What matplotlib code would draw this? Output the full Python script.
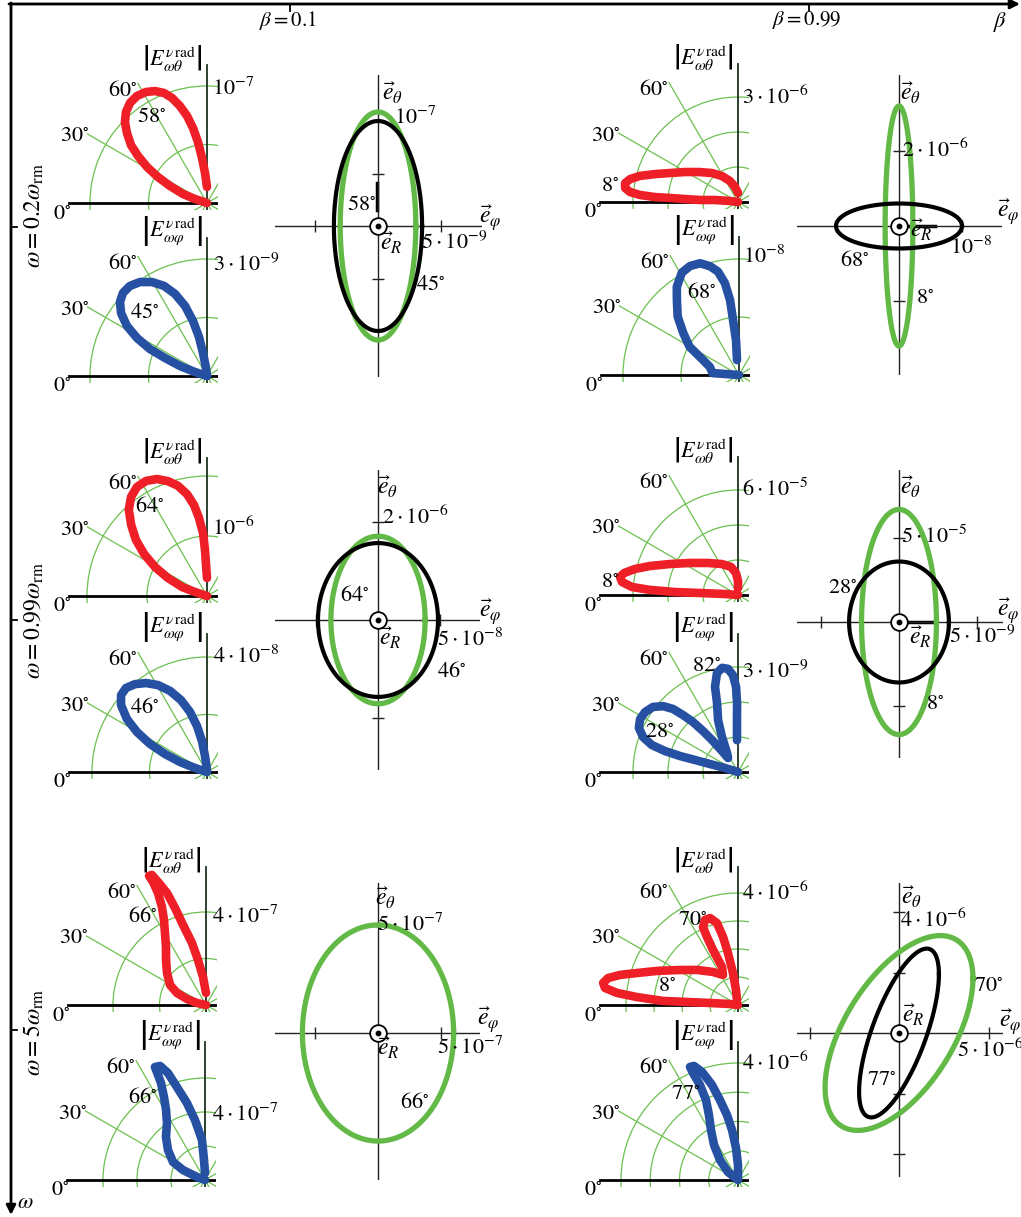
import numpy as np
import matplotlib
matplotlib.use('Agg')
import matplotlib.pyplot as plt
from matplotlib.patches import Circle

plt.rcParams['font.family'] = ['Liberation Serif', 'DejaVu Serif']
plt.rcParams['mathtext.fontset'] = 'stix'

W, H, DPI = 1021, 1217, 100
fig = plt.figure(figsize=(W / DPI, H / DPI), dpi=DPI)

RED, BLUE = '#ee1f26', '#2650a2'
GRID = '#6cc04f'
EGREEN = '#62b946'

# ------------------------------------------------------------------ data
beta_labels = ['0.1', '0.99']
omega_labels = ['0.2', '0.99', '5']

# polar lobes: angle in degrees (0 = left horizontal, 90 = up), magnitude in units of the panel unit
r1c1_theta_ang = [0, 18.4, 20.6, 24.7, 27.9, 31.0, 34.3, 37.3, 41.2, 44.6, 48.3, 52.4, 56.8, 61.2, 65.1,
                  68.7, 71.6, 74.4, 77.1, 79.4, 81.6, 83.7, 86.2, 90]
r1c1_theta_r = [0, 0.108, 0.219, 0.348, 0.474, 0.598, 0.714, 0.817, 0.909, 0.985, 1.041, 1.079, 1.093,
                1.083, 1.055, 1.009, 0.946, 0.861, 0.763, 0.652, 0.527, 0.387, 0.257, 0.137]
r1c1_phi_ang = [0, 18.4, 20.3, 23.2, 25.3, 28.5, 32.0, 36.2, 40.4, 44.7, 49.4, 54.5, 59.7, 64.5, 68.7,
                72.6, 75.7, 78.4, 80.1, 82.9, 90]
r1c1_phi_r = [0, 0.32, 0.74, 1.17, 1.62, 2.04, 2.42, 2.73, 2.93, 3.03, 3.04, 2.96, 2.79, 2.56, 2.26,
              1.88, 1.46, 1.02, 0.60, 0.21, 0]

r1c2_theta_ang = [0, 7.1, 5.0, 3.0, 3.2, 3.4, 3.4, 4.1, 5.3, 7.1, 9.5, 12.0, 14.9, 18.6, 23.1, 29.5,
                  38.3, 48.1, 58.4, 69.1, 78.7, 90]
r1c2_theta_r = [0, 0.23, 0.66, 1.09, 1.52, 1.95, 2.38, 2.81, 3.10, 3.25, 3.27, 3.15, 2.90, 2.50, 2.11,
                1.74, 1.38, 1.11, 0.87, 0.64, 0.44, 0.26]
r1c2_phi_ang = [0, 4.2, 15.4, 24.8, 29.7, 36.9, 43.6, 50.4, 54.8, 60.8, 65.8, 70.8, 75.1, 78.5, 81.3,
                83.2, 83.8, 85.1, 82.4]
r1c2_phi_r = [0, 0.23, 0.26, 0.37, 0.49, 0.60, 0.73, 0.84, 0.93, 1.01, 1.03, 1.02, 0.97, 0.91, 0.80,
              0.65, 0.48, 0.30, 0.13]

r2c1_theta_ang = [0, 18.4, 19.8, 24.8, 29.1, 33.7, 38.3, 43.1, 47.8, 52.5, 57.3, 62.1, 66.9, 71.3, 75.2,
                  78.9, 81.9, 84.1, 86.4, 87.5, 88.2, 90]
r2c1_theta_r = [0, 0.21, 0.44, 0.72, 0.99, 1.26, 1.51, 1.73, 1.94, 2.08, 2.16, 2.17, 2.12, 2.02, 1.90,
                1.73, 1.53, 1.31, 1.05, 0.77, 0.52, 0.30]
r2c1_phi_ang = [0, 18.4, 20.3, 23.2, 26.2, 29.7, 33.5, 37.9, 41.8, 46.0, 50.7, 55.6, 60.6, 65.5, 70.1,
                74.2, 77.7, 80.8, 82.9, 90]
r2c1_phi_r = [0, 0.44, 1.00, 1.59, 2.21, 2.80, 3.34, 3.79, 4.01, 4.06, 3.95, 3.75, 3.47, 3.10, 2.66,
              2.17, 1.64, 1.09, 0.56, 0.07]

r2c2_theta_ang = [0, 4.4, 3.0, 2.7, 3.3, 4.3, 6.4, 8.7, 10.9, 14.2, 18.2, 24.5, 33.7, 46.8, 62.7, 76.0,
                  84.8, 90, 90]
r2c2_theta_r = [0, 0.74, 2.18, 3.60, 5.04, 6.07, 6.67, 6.82, 6.63, 6.07, 5.30, 4.27, 3.30, 2.51, 1.99,
                1.65, 1.26, 0.80, 0.40]
r2c2_phi_ang = [0, 17.1, 15.9, 15.6, 15.4, 16.0, 17.4, 20.2, 24.0, 28.4, 32.8, 37.4, 41.3, 44.1, 46.0,
                48.0, 49.5, 51.1, 52.7, 54.5, 60.1, 65.4, 69.0, 73.1, 74.9, 78.0, 81.3, 84.5, 87.0,
                88.7, 89.2, 88.9, 88.2]
r2c2_phi_r = [0, 0.39, 0.83, 1.28, 1.72, 2.17, 2.58, 2.89, 3.10, 3.18, 3.16, 3.06, 2.85, 2.59, 2.26,
              1.92, 1.54, 1.14, 0.75, 0.49, 0.63, 1.10, 1.59, 2.06, 2.52, 2.89, 3.01, 2.96, 2.77,
              2.43, 1.97, 1.49, 0.91]

r3c1_theta_ang = [0, 12.5, 17.5, 22.5, 29.1, 39.4, 48.4, 55.4, 60.3, 63.7, 65.8, 66.8, 66.7, 66.2, 67.4,
                  68.7, 70.8, 72.3, 74.0, 77.3, 79.9, 83.9, 90]
r3c1_theta_r = [0, 0.40, 0.86, 1.35, 1.77, 2.17, 2.59, 3.03, 3.56, 4.08, 4.62, 5.24, 5.76, 6.07, 6.06,
                5.68, 5.10, 4.38, 3.58, 2.73, 1.97, 1.21, 0.52]
r3c1_phi_ang = [0, 20.6, 24.4, 29.4, 39.0, 47.8, 56.3, 60.9, 63.7, 65.6, 66.0, 66.1, 68.5, 70.9, 73.2,
                76.8, 80.5, 85.7, 87.1, 90]
r3c1_phi_r = [0, 0.50, 1.42, 2.16, 2.80, 3.42, 4.03, 4.71, 5.45, 6.27, 6.95, 7.27, 7.21, 6.66, 5.71,
              4.65, 3.58, 2.36, 1.18, 0.41]

r3c2_theta_ang = [0, 7.1, 4.1, 3.4, 3.1, 4.5, 5.7, 7.3, 9.3, 11.7, 14.3, 17.6, 22.8, 29.8, 40.5, 52.9,
                  63.4, 67.2, 65.6, 65.5, 65.8, 68.8, 72.2, 75.6, 77.6, 79.1, 81.1, 82.4, 78.7]
r3c2_theta_r = [0, 0.29, 1.00, 1.82, 2.68, 3.62, 4.34, 4.79, 4.88, 4.74, 4.35, 3.78, 3.14, 2.51, 1.93,
                1.48, 1.20, 1.47, 2.16, 2.67, 3.05, 3.26, 3.26, 3.02, 2.49, 1.89, 1.16, 0.54, 0.18]
r3c2_phi_ang = [0, 38.7, 48.0, 55.6, 61.6, 65.9, 68.2, 68.2, 67.2, 67.0, 68.9, 71.6, 74.7, 77.3, 80.4,
                83.2, 86.4, 90, 90]
r3c2_phi_r = [0, 0.44, 0.92, 1.45, 1.94, 2.43, 2.95, 3.50, 3.97, 4.20, 4.18, 3.89, 3.37, 2.80, 2.25,
              1.72, 1.10, 0.51, 0.07]

# polar grid arcs and labelled scale value (in panel units)
polar_arcs = {
    'r1c1_theta': [0.5, 1.0], 'r1c1_phi': [1.5, 3.0],
    'r1c2_theta': [1, 2, 3], 'r1c2_phi': [0.5, 1.0],
    'r2c1_theta': [1, 2], 'r2c1_phi': [2, 4],
    'r2c2_theta': [2, 4, 6], 'r2c2_phi': [1, 2, 3],
    'r3c1_theta': [2, 4], 'r3c1_phi': [2, 4, 6],
    'r3c2_theta': [1, 2, 3, 4], 'r3c2_phi': [1, 2, 3, 4],
}
polar_scale_value = {
    'r1c1_theta': 1, 'r1c1_phi': 3, 'r1c2_theta': 3, 'r1c2_phi': 1,
    'r2c1_theta': 1, 'r2c1_phi': 4, 'r2c2_theta': 6, 'r2c2_phi': 3,
    'r3c1_theta': 4, 'r3c1_phi': 4, 'r3c2_theta': 4, 'r3c2_phi': 4,
}
polar_scale_text = {
    'r1c1_theta': r'$10^{-7}$', 'r1c1_phi': r'$3\cdot10^{-9}$',
    'r1c2_theta': r'$3\cdot10^{-6}$', 'r1c2_phi': r'$10^{-8}$',
    'r2c1_theta': r'$10^{-6}$', 'r2c1_phi': r'$4\cdot10^{-8}$',
    'r2c2_theta': r'$6\cdot10^{-5}$', 'r2c2_phi': r'$3\cdot10^{-9}$',
    'r3c1_theta': r'$4\cdot10^{-7}$', 'r3c1_phi': r'$4\cdot10^{-7}$',
    'r3c2_theta': r'$4\cdot10^{-6}$', 'r3c2_phi': r'$4\cdot10^{-6}$',
}
polar_peak_text = {
    'r1c1_theta': ['58'], 'r1c1_phi': ['45'], 'r1c2_theta': ['8'], 'r1c2_phi': ['68'],
    'r2c1_theta': ['64'], 'r2c1_phi': ['46'], 'r2c2_theta': ['8'], 'r2c2_phi': ['82', '28'],
    'r3c1_theta': ['66'], 'r3c1_phi': ['66'], 'r3c2_theta': ['70', '8'], 'r3c2_phi': ['77'],
}

# polarization ellipses: amplitude along e_phi, amplitude along e_theta, phase (deg)
ell_r1c1_green = (3.0, 1.086, 90); ell_r1c1_black = (3.5, 1.0, 90)
ell_r1c2_green = (0.22, 3.2, 90); ell_r1c2_black = (1.0, 0.6, 90)
ell_r2c1_green = (3.8, 1.71, 90); ell_r2c1_black = (4.84, 1.57, 90)
ell_r2c2_green = (2.4, 6.7, 90); ell_r2c2_black = (3.2, 3.6, 90)
ell_r3c1_green = (6.0, 5.05, 90)
ell_r3c2_green = (4.13, 3.22, 56); ell_r3c2_black = (2.23, 2.79, 46)

ell_ticks_phi = {'r1c1': [-5, 5], 'r1c2': [-1, 1], 'r2c1': [-5, 5], 'r2c2': [-5, 5], 'r3c1': [-5, 5], 'r3c2': [-5, 5]}
ell_ticks_theta = {'r1c1': [-1, -0.5, 0.5, 1], 'r1c2': [-2, 2], 'r2c1': [-2, 2], 'r2c2': [-5, 5],
                   'r3c1': [-5, 5], 'r3c2': [-4, -2, 2, 4]}
ell_tick_value_phi = {'r1c1': 5, 'r1c2': 1, 'r2c1': 5, 'r2c2': 5, 'r3c1': 5, 'r3c2': 5}
ell_tick_value_theta = {'r1c1': 1, 'r1c2': 2, 'r2c1': 2, 'r2c2': 5, 'r3c1': 5, 'r3c2': 4}
ell_phi_text = {'r1c1': r'$5\cdot10^{-9}$', 'r1c2': r'$10^{-8}$', 'r2c1': r'$5\cdot10^{-8}$',
                'r2c2': r'$5\cdot10^{-9}$', 'r3c1': r'$5\cdot10^{-7}$', 'r3c2': r'$5\cdot10^{-6}$'}
ell_theta_text = {'r1c1': r'$10^{-7}$', 'r1c2': r'$2\cdot10^{-6}$', 'r2c1': r'$2\cdot10^{-6}$',
                  'r2c2': r'$5\cdot10^{-5}$', 'r3c1': r'$5\cdot10^{-7}$', 'r3c2': r'$4\cdot10^{-6}$'}
ell_angle_text = {'r1c1': ['58', '45'], 'r1c2': ['68', '8'], 'r2c1': ['64', '46'],
                  'r2c2': ['28', '8'], 'r3c1': ['66'], 'r3c2': ['70', '77']}

# ------------------------------------------------------------------ layout (pixels)
def rect(x0, y0, x1, y1):
    return [x0 / W, 1 - y1 / H, (x1 - x0) / W, (y1 - y0) / H]

bg = fig.add_axes([0, 0, 1, 1])
bg.set_xlim(0, W); bg.set_ylim(H, 0); bg.axis('off')

polar_layout = {   # origin x, origin y, pixel radius of labelled value
    'r1c1_theta': (207, 203, 117), 'r1c1_phi': (207, 376, 117),
    'r1c2_theta': (738, 202, 105), 'r1c2_phi': (739, 375, 116),
    'r2c1_theta': (207, 596, 60), 'r2c1_phi': (207, 772, 115),
    'r2c2_theta': (738, 595, 105), 'r2c2_phi': (738, 772, 105),
    'r3c1_theta': (206, 1005, 93), 'r3c1_phi': (205, 1180, 68),
    'r3c2_theta': (738, 1005, 112), 'r3c2_phi': (738, 1180, 117),
}
scale_label_pos = {
    'r1c1_theta': (212, 89), 'r1c1_phi': (213, 265), 'r1c2_theta': (742, 97), 'r1c2_phi': (743, 257),
    'r2c1_theta': (212, 528), 'r2c1_phi': (213, 657), 'r2c2_theta': (742, 490), 'r2c2_phi': (742, 672),
    'r3c1_theta': (212, 917), 'r3c1_phi': (212, 1115), 'r3c2_theta': (742, 893), 'r3c2_phi': (742, 1063),
}
peak_label_pos = {
    'r1c1_theta': [(152, 117)], 'r1c1_phi': [(145, 313)], 'r1c2_theta': [(610, 188)],
    'r1c2_phi': [(702, 293)], 'r2c1_theta': [(150, 507)], 'r2c1_phi': [(145, 708)],
    'r2c2_theta': [(610, 583)], 'r2c2_phi': [(707, 667), (660, 733)],
    'r3c1_theta': [(143, 917)], 'r3c1_phi': [(143, 1098)],
    'r3c2_theta': [(693, 922), (667, 988)], 'r3c2_phi': [(686, 1095)],
}
lobe_data = {
    'r1c1_theta': (r1c1_theta_ang, r1c1_theta_r, RED), 'r1c1_phi': (r1c1_phi_ang, r1c1_phi_r, BLUE),
    'r1c2_theta': (r1c2_theta_ang, r1c2_theta_r, RED), 'r1c2_phi': (r1c2_phi_ang, r1c2_phi_r, BLUE),
    'r2c1_theta': (r2c1_theta_ang, r2c1_theta_r, RED), 'r2c1_phi': (r2c1_phi_ang, r2c1_phi_r, BLUE),
    'r2c2_theta': (r2c2_theta_ang, r2c2_theta_r, RED), 'r2c2_phi': (r2c2_phi_ang, r2c2_phi_r, BLUE),
    'r3c1_theta': (r3c1_theta_ang, r3c1_theta_r, RED), 'r3c1_phi': (r3c1_phi_ang, r3c1_phi_r, BLUE),
    'r3c2_theta': (r3c2_theta_ang, r3c2_theta_r, RED), 'r3c2_phi': (r3c2_phi_ang, r3c2_phi_r, BLUE),
}

FS = 16
texts = []

def T(x, y, s, size=FS, **kw):
    texts.append((x, y, s, size, kw))

SPOKE = 138
for key, (ox, oy, rpx) in polar_layout.items():
    ppu = rpx / polar_scale_value[key]
    L, R, TOP, B = ox - 152, ox + 11, oy - 152, oy + 7
    ax = fig.add_axes(rect(L, TOP, R, B))
    ax.set_xlim((L - ox) / ppu, (R - ox) / ppu)
    ax.set_ylim((oy - B) / ppu, (oy - TOP) / ppu)
    ax.axis('off'); ax.patch.set_visible(False)
    for a in polar_arcs[key]:
        ax.add_patch(Circle((0, 0), a, fill=False, ec=GRID, lw=0.9))
    sp = SPOKE / ppu
    for d in range(0, 360, 30):
        t = np.radians(d)
        if d in (0, 180):
            c, lw = 'black', 2.0
        elif d in (90, 270):
            c, lw = '#1d3320', 1.3
        else:
            c, lw = GRID, 0.9
        ax.plot([0, -sp * np.cos(t)], [0, sp * np.sin(t)], color=c, lw=lw,
                zorder=2 if d in (0, 180, 90, 270) else 1)
    ang, rr, col = lobe_data[key]
    ang = np.radians(np.asarray(ang, float)); rr = np.asarray(rr, float)
    ax.plot(-rr * np.cos(ang), rr * np.sin(ang), color=col, lw=6.2,
            solid_capstyle='round', solid_joinstyle='round', zorder=3)
    # labels
    sym = 'theta' if key.endswith('theta') else 'varphi'
    T(ox - 35, oy - 145, r'$\left|E^{\nu\,\mathrm{rad}}_{\omega\%s}\right|$' % sym, size=16)
    T(ox - 84, oy - 112, r'$60^{\circ}$')
    T(ox - 132, oy - 65, r'$30^{\circ}$')
    T(ox - 145, oy + 12, r'$0^{\circ}$')
    sx, sy = scale_label_pos[key]
    T(sx, sy, polar_scale_text[key], ha='left')
    for s, (px, py) in zip(polar_peak_text[key], peak_label_pos[key]):
        T(px, py, r'$%s^{\circ}$' % s)

ell_layout = {  # center x, y, x-extent, y-extent, pixel offset of the labelled ticks (phi, theta)
    'r1c1': (378, 226, (275, 482), (75, 377), 63, 105),
    'r1c2': (899, 226, (797, 1002), (75, 375), 63, 75),
    'r2c1': (378, 620, (275, 480), (470, 770), 62, 98),
    'r2c2': (899, 622, (797, 1003), (470, 758), 78, 84),
    'r3c1': (378, 1033, (275, 480), (883, 1180), 63, 107),
    'r3c2': (899, 1033, (797, 1003), (883, 1177), 89.5, 121),
}
ell_data = {
    'r1c1': [ell_r1c1_green, ell_r1c1_black], 'r1c2': [ell_r1c2_green, ell_r1c2_black],
    'r2c1': [ell_r2c1_green, ell_r2c1_black], 'r2c2': [ell_r2c2_green, ell_r2c2_black],
    'r3c1': [ell_r3c1_green], 'r3c2': [ell_r3c2_green, ell_r3c2_black],
}
ell_text_pos = {  # e_theta, e_phi, e_R, theta-scale, phi-scale, angle labels
    'r1c1': [(393, 93), (490, 218), (391, 243), (415, 118), (454, 243), [(362, 205), (431, 285)]],
    'r1c2': [(911, 93), (1008, 212), (921, 230), (935, 150), (971, 248), [(855, 261), (925, 300)]],
    'r2c1': [(388, 487), (490, 612), (390, 638), (415, 517), (470, 640), [(355, 596), (452, 672)]],
    'r2c2': [(911, 487), (1008, 611), (920, 637), (934, 537), (982, 637), [(843, 590), (935, 705)]],
    'r3c1': [(386, 898), (488, 1020), (388, 1048), (410, 925), (470, 1048), [(415, 1103)]],
    'r3c2': [(912, 897), (1010, 1022), (913, 1015), (933, 920), (990, 1050), [(989, 987), (882, 1081)]],
}
tparam = np.linspace(0, 2 * np.pi, 361)
for key, (cx, cy, (x0, x1), (y0, y1), tpx, tpy) in ell_layout.items():
    ppx = tpx / ell_tick_value_phi[key]
    ppy = tpy / ell_tick_value_theta[key]
    ax = fig.add_axes(rect(x0, y0, x1, y1))
    ax.set_xlim((x0 - cx) / ppx, (x1 - cx) / ppx)
    ax.set_ylim((cy - y1) / ppy, (cy - y0) / ppy)
    ax.axis('off'); ax.patch.set_visible(False)
    ax.axhline(0, color='#222222', lw=1.0, zorder=1)
    ax.axvline(0, color='#222222', lw=1.0, zorder=1)
    tp = ell_ticks_phi[key]; tt = ell_ticks_theta[key]
    ax.plot(tp, np.zeros(len(tp)), ls='none', marker='|', ms=8, mew=1.0, color='#222222', zorder=1)
    ax.plot(np.zeros(len(tt)), tt, ls='none', marker='_', ms=8, mew=1.0, color='#222222', zorder=1)
    for i, (aphi, ath, dl) in enumerate(ell_data[key]):
        col, lw = (EGREEN, 3.8) if i == 0 else ('black', 3.0)
        ax.plot(aphi * np.cos(tparam), ath * np.cos(tparam - np.radians(dl)), color=col, lw=lw,
                zorder=2 + i, clip_on=False)
    ax.plot([0], [0], marker='o', ms=12, mfc='white', mec='black', mew=1.3, zorder=5)
    ax.plot([0], [0], marker='o', ms=3.2, color='black', zorder=6)
    pe = ell_text_pos[key]
    T(*pe[0], r'$\vec{e}_{\theta}$', size=17)
    T(*pe[1], r'$\vec{e}_{\varphi}$', size=17)
    T(*pe[2], r'$\vec{e}_{R}$', size=17)
    T(*pe[3], ell_theta_text[key])
    T(*pe[4], ell_phi_text[key])
    for s, p in zip(ell_angle_text[key], pe[5]):
        T(*p, r'$%s^{\circ}$' % s)

# short marks on axes (as in the original)
bg.plot([377, 377], [183, 210], color='black', lw=2.5)
bg.plot([907, 935], [226, 226], color='black', lw=2.5)
bg.plot([907, 933], [622, 622], color='black', lw=2.5)

# ------------------------------------------------------------------ frame axes
top = fig.add_axes([0, 0, 1, 1])
top.set_xlim(0, W); top.set_ylim(H, 0); top.axis('off'); top.patch.set_visible(False)
top.annotate('', xy=(1020, 4), xytext=(9, 4),
             arrowprops=dict(arrowstyle='-|>', lw=2.0, color='black', mutation_scale=14, shrinkA=0, shrinkB=0))
top.annotate('', xy=(11, 1215), xytext=(11, 3),
             arrowprops=dict(arrowstyle='-|>', lw=2.0, color='black', mutation_scale=14, shrinkA=0, shrinkB=0))
for bx, bl in zip([290, 809], beta_labels):
    top.plot([bx, bx], [4, 11], color='black', lw=1.3)
    T(bx - 2, 20, r'$\beta = %s$' % bl, size=15)
T(1000, 22, r'$\beta$', size=16)
T(25, 1204, r'$\omega$', size=16)
for wy, ly, wl in zip([227, 620, 1030], [215, 620, 1032], omega_labels):
    top.plot([11, 17], [wy, wy], color='black', lw=1.3)
    T(34, ly, r'$\omega = %s\omega_{\mathrm{rm}}$' % wl, size=17, rotation=90)

for (x, y, s, size, kw) in texts:
    kw.setdefault('ha', 'center')
    kw.setdefault('va', 'center')
    top.text(x, y, s, fontsize=size, **kw)

fig.savefig('out.png', dpi=DPI)
